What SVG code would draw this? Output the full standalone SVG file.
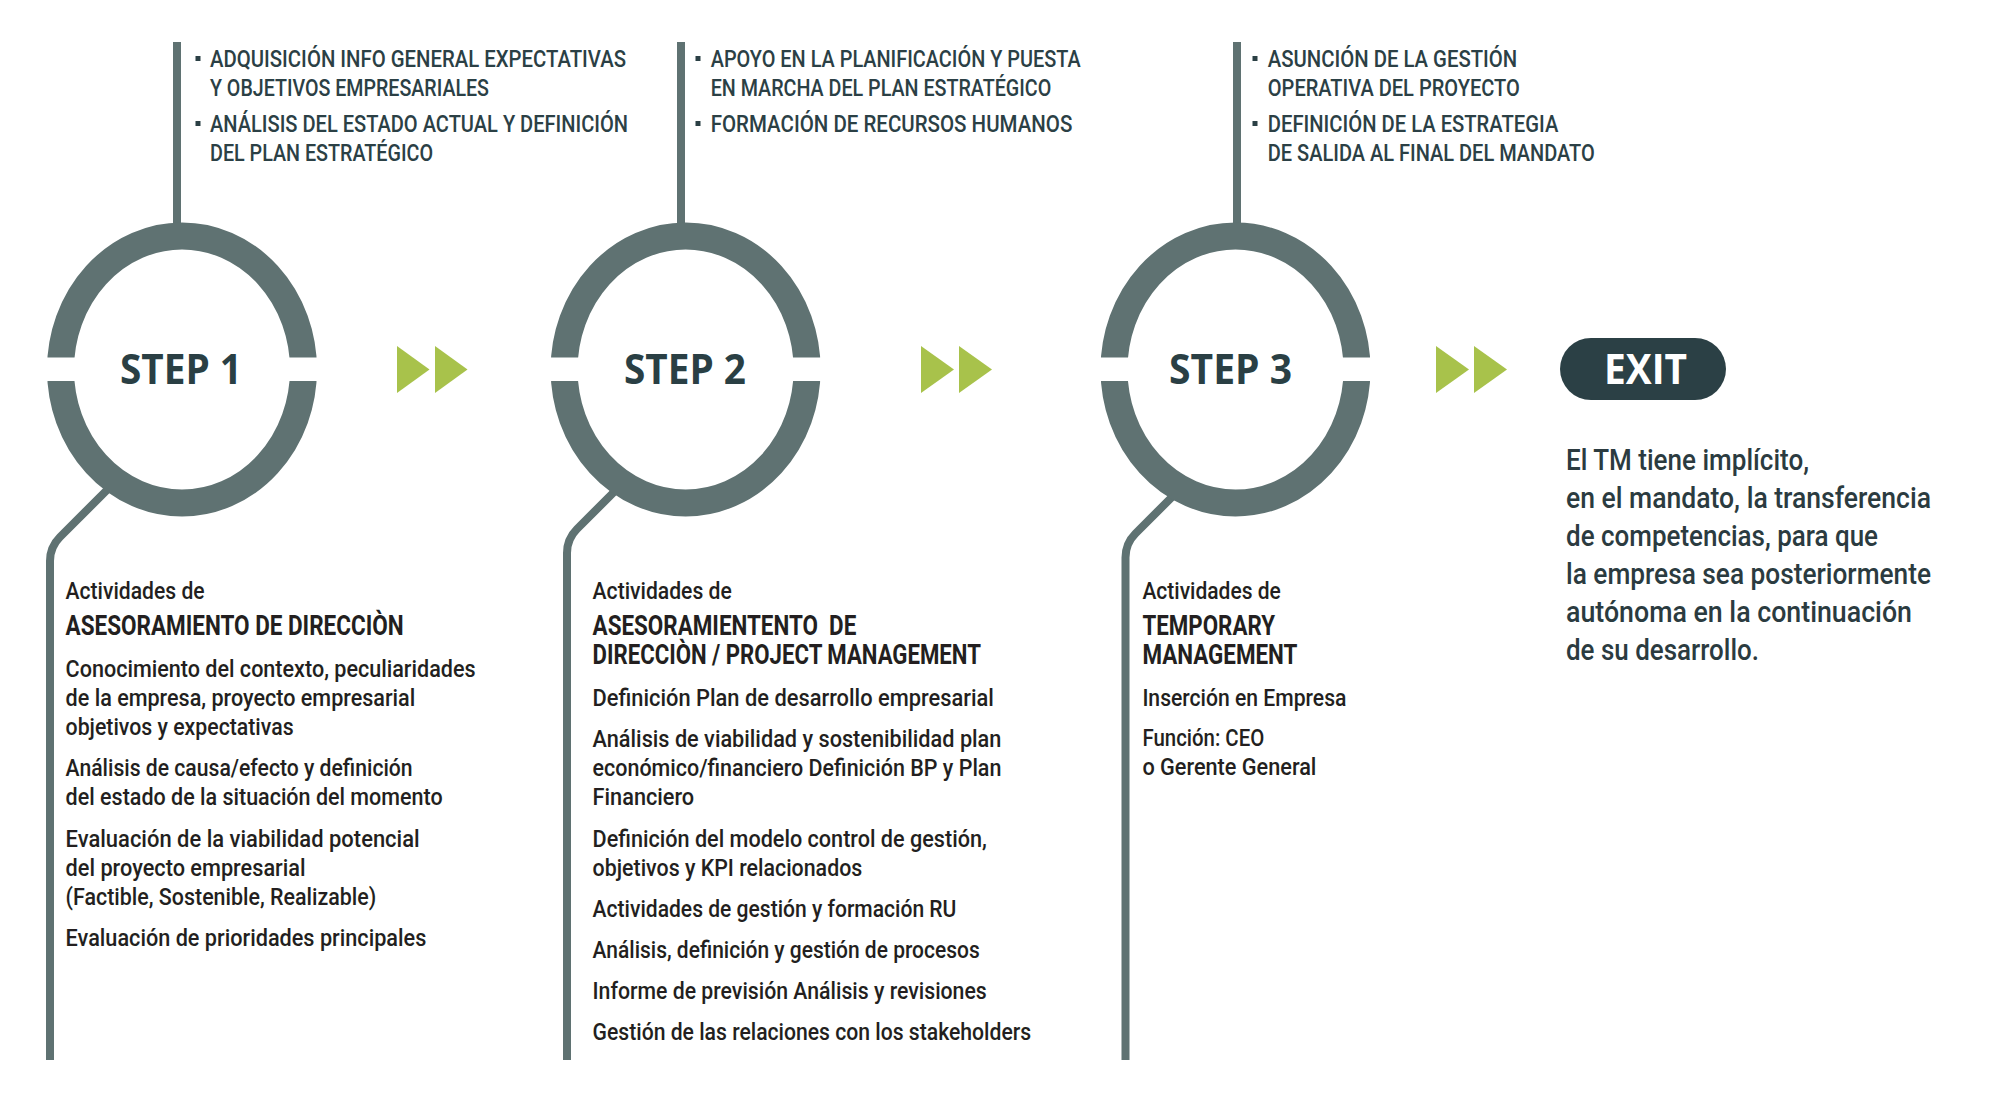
<svg xmlns="http://www.w3.org/2000/svg" width="2000" height="1104" viewBox="0 0 2000 1104">
<style>
.ring{fill:none;stroke:#5f7272;stroke-width:27}
.conn{fill:none;stroke:#5f7272;stroke-width:8}
.gap{fill:#ffffff}
.arrow{fill:#a8c24b}
.bullet{fill:#2b4045}
.top{font-family:Roboto,"Liberation Sans",sans-serif;font-size:24px;font-weight:500;fill:#2b4045}
.body{font-family:Roboto,"Liberation Sans",sans-serif;font-size:23.5px;font-weight:500;fill:#231f20}
.head{font-family:Roboto,"Liberation Sans",sans-serif;font-size:27px;font-weight:700;fill:#231f20}
.step{font-family:"Open Sans","Liberation Sans",sans-serif;font-size:41px;font-weight:700;fill:#2a3f44;text-anchor:middle}
.exit{font-family:"Open Sans","Liberation Sans",sans-serif;font-size:41px;font-weight:700;fill:#ffffff;text-anchor:middle}
.exitp{font-family:Roboto,"Liberation Sans",sans-serif;font-size:29px;font-weight:500;fill:#2b3b40}
</style>
<rect width="2000" height="1104" fill="#ffffff"/>
<g id="connectors">
<line class="conn" x1="177" y1="42" x2="177" y2="235"/>
<line class="conn" x1="681" y1="42" x2="681" y2="235"/>
<line class="conn" x1="1237" y1="42" x2="1237" y2="235"/>
<path class="conn" d="M120,477 L60,537 Q50,547 50,561 L50,1060"/>
<path class="conn" d="M628,478 L577,529 Q567,539 567,553 L567,1060"/>
<path class="conn" d="M1187,482 L1135.5,533.5 Q1125.5,543.5 1125.5,557.5 L1125.5,1060"/>
<g id="arrows">
<polygon class="arrow" points="397,346 429.5,369.5 397,393"/>
<polygon class="arrow" points="435,346 467.5,369.5 435,393"/>
<polygon class="arrow" points="921,346 954,369.5 921,393"/>
<polygon class="arrow" points="959,346 992,369.5 959,393"/>
<polygon class="arrow" points="1436,346 1469,369.5 1436,393"/>
<polygon class="arrow" points="1474,346 1507,369.5 1474,393"/>
</g>
</g>
<g id="step1">
<ellipse class="ring" cx="182" cy="369.5" rx="121.5" ry="133.5"/>
<rect class="gap" x="40" y="357.5" width="284" height="23.5"/>
<text class="step" x="181" y="384" textLength="122" lengthAdjust="spacingAndGlyphs">STEP 1</text>
<g id="step1-top">
<rect class="bullet" x="195.5" y="56" width="5" height="5"/>
<rect class="bullet" x="195.5" y="121" width="5" height="5"/>
<text class="top" x="210" y="67" textLength="416" lengthAdjust="spacingAndGlyphs">ADQUISICIÓN INFO GENERAL EXPECTATIVAS</text>
<text class="top" x="210" y="96.4" textLength="279" lengthAdjust="spacingAndGlyphs">Y OBJETIVOS EMPRESARIALES</text>
<text class="top" x="210" y="132" textLength="418" lengthAdjust="spacingAndGlyphs">ANÁLISIS DEL ESTADO ACTUAL Y DEFINICIÓN</text>
<text class="top" x="210" y="161" textLength="223" lengthAdjust="spacingAndGlyphs">DEL PLAN ESTRATÉGICO</text>
</g>
<g id="step1-bottom">
<text class="body" x="65.6" y="599.4" textLength="139" lengthAdjust="spacingAndGlyphs">Actividades de</text>
<text class="head" x="65.6" y="635.3" textLength="338" lengthAdjust="spacingAndGlyphs">ASESORAMIENTO DE DIRECCIÒN</text>
<text class="body" x="65.6" y="676.7" textLength="410" lengthAdjust="spacingAndGlyphs">Conocimiento del contexto, peculiaridades</text>
<text class="body" x="65.6" y="705.7" textLength="349.6" lengthAdjust="spacingAndGlyphs">de la empresa, proyecto empresarial</text>
<text class="body" x="65.6" y="734.7" textLength="228" lengthAdjust="spacingAndGlyphs">objetivos y expectativas</text>
<text class="body" x="65.6" y="776" textLength="347" lengthAdjust="spacingAndGlyphs">Análisis de causa/efecto y definición</text>
<text class="body" x="65.6" y="805" textLength="377" lengthAdjust="spacingAndGlyphs">del estado de la situación del momento</text>
<text class="body" x="65.6" y="846.8" textLength="354" lengthAdjust="spacingAndGlyphs">Evaluación de la viabilidad potencial</text>
<text class="body" x="65.6" y="875.8" textLength="240" lengthAdjust="spacingAndGlyphs">del proyecto empresarial</text>
<text class="body" x="65.6" y="904.8" textLength="310.7" lengthAdjust="spacingAndGlyphs">(Factible, Sostenible, Realizable)</text>
<text class="body" x="65.6" y="946" textLength="360.7" lengthAdjust="spacingAndGlyphs">Evaluación de prioridades principales</text>
</g>
</g>
<g id="step2">
<ellipse class="ring" cx="685.6" cy="369.5" rx="121.5" ry="133.5"/>
<rect class="gap" x="543" y="357.5" width="285" height="23.5"/>
<text class="step" x="685" y="384" textLength="122" lengthAdjust="spacingAndGlyphs">STEP 2</text>
<g id="step2-top">
<rect class="bullet" x="695.5" y="56" width="5" height="5"/>
<rect class="bullet" x="695.5" y="121" width="5" height="5"/>
<text class="top" x="710.7" y="67" textLength="370" lengthAdjust="spacingAndGlyphs">APOYO EN LA PLANIFICACIÓN Y PUESTA</text>
<text class="top" x="710.7" y="96.4" textLength="340.6" lengthAdjust="spacingAndGlyphs">EN MARCHA DEL PLAN ESTRATÉGICO</text>
<text class="top" x="710.7" y="132" textLength="361.6" lengthAdjust="spacingAndGlyphs">FORMACIÓN DE RECURSOS HUMANOS</text>
</g>
<g id="step2-bottom">
<text class="body" x="592.6" y="599.4" textLength="139.2" lengthAdjust="spacingAndGlyphs">Actividades de</text>
<text class="head" x="592.6" y="635.3" textLength="263.7" lengthAdjust="spacingAndGlyphs" xml:space="preserve">ASESORAMIENTENTO  DE</text>
<text class="head" x="592.6" y="664" textLength="388.3" lengthAdjust="spacingAndGlyphs">DIRECCIÒN / PROJECT MANAGEMENT</text>
<text class="body" x="592.6" y="705.5" textLength="401.3" lengthAdjust="spacingAndGlyphs">Definición Plan de desarrollo empresarial</text>
<text class="body" x="592.6" y="746.8" textLength="408.8" lengthAdjust="spacingAndGlyphs">Análisis de viabilidad y sostenibilidad plan</text>
<text class="body" x="592.6" y="775.8" textLength="408.8" lengthAdjust="spacingAndGlyphs">económico/financiero Definición BP y Plan</text>
<text class="body" x="592.6" y="804.8" textLength="101.6" lengthAdjust="spacingAndGlyphs">Financiero</text>
<text class="body" x="592.6" y="846.8" textLength="394.2" lengthAdjust="spacingAndGlyphs">Definición del modelo control de gestión,</text>
<text class="body" x="592.6" y="875.8" textLength="269.7" lengthAdjust="spacingAndGlyphs">objetivos y KPI relacionados</text>
<text class="body" x="592.6" y="916.5" textLength="363.8" lengthAdjust="spacingAndGlyphs">Actividades de gestión y formación RU</text>
<text class="body" x="592.6" y="957.5" textLength="387.1" lengthAdjust="spacingAndGlyphs">Análisis, definición y gestión de procesos</text>
<text class="body" x="592.6" y="998.6" textLength="394.2" lengthAdjust="spacingAndGlyphs">Informe de previsión Análisis y revisiones</text>
<text class="body" x="592.6" y="1040" textLength="438.5" lengthAdjust="spacingAndGlyphs">Gestión de las relaciones con los stakeholders</text>
</g>
</g>
<g id="step3">
<ellipse class="ring" cx="1235.5" cy="369.5" rx="121.5" ry="133.5"/>
<rect class="gap" x="1093" y="357.5" width="285" height="23.5"/>
<text class="step" x="1230.6" y="384" textLength="123" lengthAdjust="spacingAndGlyphs">STEP 3</text>
<g id="step3-top">
<rect class="bullet" x="1252.5" y="56" width="5" height="5"/>
<rect class="bullet" x="1252.5" y="121" width="5" height="5"/>
<text class="top" x="1267.8" y="67" textLength="249.4" lengthAdjust="spacingAndGlyphs">ASUNCIÓN DE LA GESTIÓN</text>
<text class="top" x="1267.8" y="96.4" textLength="252" lengthAdjust="spacingAndGlyphs">OPERATIVA DEL PROYECTO</text>
<text class="top" x="1267.8" y="132" textLength="290.5" lengthAdjust="spacingAndGlyphs">DEFINICIÓN DE LA ESTRATEGIA</text>
<text class="top" x="1267.8" y="161" textLength="327" lengthAdjust="spacingAndGlyphs">DE SALIDA AL FINAL DEL MANDATO</text>
</g>
<g id="step3-bottom">
<text class="body" x="1142.4" y="599.4" textLength="138.4" lengthAdjust="spacingAndGlyphs">Actividades de</text>
<text class="head" x="1142.4" y="635.3" textLength="132.6" lengthAdjust="spacingAndGlyphs">TEMPORARY</text>
<text class="head" x="1142.4" y="664" textLength="155" lengthAdjust="spacingAndGlyphs">MANAGEMENT</text>
<text class="body" x="1142.4" y="705.5" textLength="204" lengthAdjust="spacingAndGlyphs">Inserción en Empresa</text>
<text class="body" x="1142.4" y="746" textLength="121.9" lengthAdjust="spacingAndGlyphs">Función: CEO</text>
<text class="body" x="1142.4" y="775" textLength="174" lengthAdjust="spacingAndGlyphs">o Gerente General</text>
</g>
</g>
<g id="exit">
<rect x="1560" y="338" width="166" height="62" rx="31" fill="#2b4045"/>
<text class="exit" x="1645.5" y="384" textLength="83" lengthAdjust="spacingAndGlyphs">EXIT</text>
<g id="exit-text">
<text class="exitp" x="1566" y="469.5" textLength="243" lengthAdjust="spacingAndGlyphs">El TM tiene implícito,</text>
<text class="exitp" x="1566" y="507.5" textLength="365" lengthAdjust="spacingAndGlyphs">en el mandato, la transferencia</text>
<text class="exitp" x="1566" y="545.5" textLength="312" lengthAdjust="spacingAndGlyphs">de competencias, para que</text>
<text class="exitp" x="1566" y="583.5" textLength="365" lengthAdjust="spacingAndGlyphs">la empresa sea posteriormente</text>
<text class="exitp" x="1566" y="621.5" textLength="346" lengthAdjust="spacingAndGlyphs">autónoma en la continuación</text>
<text class="exitp" x="1566" y="659.5" textLength="193" lengthAdjust="spacingAndGlyphs">de su desarrollo.</text>
</g>
</g>
</svg>
